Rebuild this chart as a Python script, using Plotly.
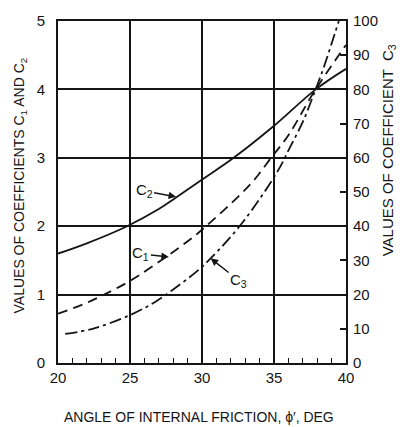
import plotly.graph_objects as go

# --- data ---
phi_c1 = [20, 22, 23.2, 25, 27.5, 29.5, 30.6, 32.5, 33.6, 34.8, 36, 37.8, 40]
c1 = [0.72, 0.88, 1.0, 1.2, 1.55, 1.86, 2.06, 2.43, 2.67, 3.0, 3.33, 3.97, 4.65]

phi_c2 = [20, 22, 24.8, 27, 28.2, 30, 32.2, 34.9, 37.9, 40]
c2 = [1.6, 1.75, 2.0, 2.25, 2.42, 2.68, 3.0, 3.45, 4.0, 4.3]

phi_c3 = [20.5, 22.4, 25, 26.8, 28, 29.7, 30.7, 32.8, 35.2, 36.1, 37, 37.8, 38.5, 39.5]
c3 = [8.5, 10, 14, 18, 21.5, 27, 31, 41, 55.7, 63, 70.5, 79, 87, 100]

x_ticks = [20, 25, 30, 35, 40]
x_minor_ticks = [21, 22, 23, 24, 26, 27, 28, 29, 31, 32, 33, 34, 36, 37, 38, 39]
y1_ticks = [0, 1, 2, 3, 4, 5]
y2_ticks = [0, 10, 20, 30, 40, 50, 60, 70, 80, 90, 100]
y2_tick_marks = [10, 30, 50, 70, 90]

INK = "#151515"
FONT = "Liberation Sans, Arial, sans-serif"

fig = go.Figure()
fig.add_trace(go.Scatter(x=phi_c2, y=c2, mode="lines",
                         line=dict(color=INK, width=1.8, shape="spline")))
fig.add_trace(go.Scatter(x=phi_c1, y=c1, mode="lines",
                         line=dict(color=INK, width=1.8, dash="10px,6px", shape="spline")))
fig.add_trace(go.Scatter(x=phi_c3, y=c3, mode="lines", yaxis="y2",
                         line=dict(color=INK, width=1.8, dash="12px,4px,3px,4px", shape="spline")))
# empty traces so the tick-only overlay axes are drawn
fig.add_trace(go.Scatter(x=[None], y=[None], xaxis="x2", yaxis="y3", mode="lines",
                         hoverinfo="skip"))

fig.update_layout(
    width=414, height=427,
    margin=dict(l=58, r=68, t=16, b=64),
    paper_bgcolor="white", plot_bgcolor="white",
    showlegend=False,
    font=dict(family=FONT, color=INK, size=15),
    xaxis=dict(range=[20, 40], tickvals=x_ticks, ticktext=[str(v) for v in x_ticks],
               showgrid=True, gridcolor=INK, gridwidth=1.5,
               showline=True, linecolor=INK, linewidth=2, mirror=True,
               ticks="", zeroline=False, tickfont=dict(size=15)),
    xaxis2=dict(range=[20, 40], overlaying="x", anchor="y", side="bottom",
                tickvals=x_minor_ticks, ticks="inside", ticklen=5,
                tickcolor=INK, tickwidth=1.3, showticklabels=False,
                showgrid=False, zeroline=False, showline=False),
    yaxis=dict(range=[0, 5], tickvals=y1_ticks, ticktext=[str(v) for v in y1_ticks],
               showgrid=True, gridcolor=INK, gridwidth=1.8,
               showline=True, linecolor=INK, linewidth=2, mirror=True,
               ticks="", zeroline=False, ticklabelstandoff=8,
               tickfont=dict(size=15)),
    yaxis2=dict(range=[0, 100], overlaying="y", side="right",
                tickvals=y2_ticks, ticktext=[str(v) for v in y2_ticks],
                showgrid=False, zeroline=False, showline=False, ticks="",
                ticklabelstandoff=6, tickfont=dict(size=15)),
    yaxis3=dict(range=[0, 100], overlaying="y", side="right", anchor="x2",
                tickvals=y2_tick_marks, ticks="inside", ticklen=6,
                tickcolor=INK, tickwidth=1.5, showticklabels=False,
                showgrid=False, zeroline=False, showline=False),
)

# axis titles
fig.add_annotation(text="VALUES OF COEFFICIENTS C<sub>1</sub> AND C<sub>2</sub>",
                   xref="paper", yref="paper", x=-0.132, y=0.519,
                   textangle=-90, showarrow=False, xanchor="center", yanchor="middle",
                   font=dict(size=14))
fig.add_annotation(text="VALUES OF COEFFICIENT  C<sub>3</sub>",
                   xref="paper", yref="paper", x=1.146, y=0.622,
                   textangle=-90, showarrow=False, xanchor="center", yanchor="middle",
                   font=dict(size=15))
fig.add_annotation(text="ANGLE OF INTERNAL FRICTION, \u03d5\u2032, DEG",
                   xref="paper", yref="paper", x=0.49, y=-0.1585,
                   showarrow=False, xanchor="center", yanchor="middle",
                   font=dict(size=14))

# curve labels
arrow = dict(showarrow=True, arrowhead=2, arrowsize=1, arrowwidth=1.5, arrowcolor=INK,
             font=dict(size=15))
fig.add_annotation(text="C<sub>2</sub>", x=28.2, y=2.43, xref="x", yref="y",
                   ax=-32, ay=-6, **arrow)
fig.add_annotation(text="C<sub>1</sub>", x=27.7, y=1.55, xref="x", yref="y",
                   ax=-28, ay=-3, **arrow)
fig.add_annotation(text="C<sub>3</sub>", x=30.6, y=30.6, xref="x", yref="y2",
                   ax=28, ay=22, **arrow)

fig.write_html("out.html")
